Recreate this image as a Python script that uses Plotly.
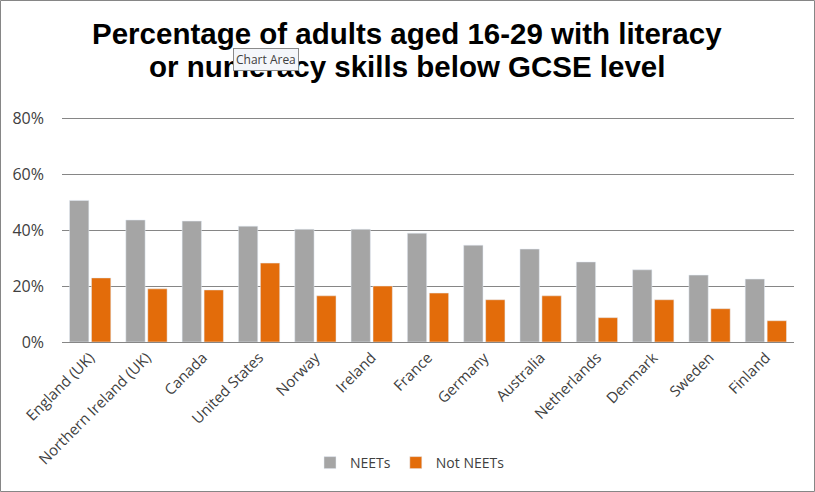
import plotly.graph_objects as go

countries = ["England (UK)", "Northern Ireland (UK)", "Canada", "United States", "Norway",
             "Ireland", "France", "Germany", "Australia", "Netherlands", "Denmark",
             "Sweden", "Finland"]
neets = [50.6, 43.6, 43.2, 41.4, 40.3, 40.3, 38.9, 34.6, 33.2, 28.6, 25.8, 23.9, 22.5]
not_neets = [22.9, 19.0, 18.6, 28.2, 16.5, 20.0, 17.5, 15.1, 16.5, 8.7, 15.1, 11.9, 7.6]
y_ticks = [0, 20, 40, 60, 80]
y_labels = ["0%", "20%", "40%", "60%", "80%"]
title_lines = ["Percentage of adults aged 16-29 with literacy",
               "or numeracy skills below GCSE level"]

W, H = 815, 492
ml, mr, mt, mb = 62, 21, 117, 150
pw, ph = W - ml - mr, H - mt - mb

fig = go.Figure()
fig.add_trace(go.Bar(x=countries, y=neets, name="NEETs", marker_color="#A5A5A5"))
fig.add_trace(go.Bar(x=countries, y=not_neets, name="Not NEETs", marker_color="#E36C0A"))

fig.update_layout(
    width=W, height=H,
    margin=dict(l=ml, r=mr, t=mt, b=mb, autoexpand=False),
    paper_bgcolor="white", plot_bgcolor="white",
    barmode="group", bargap=0.22, bargroupgap=0.12,
    font=dict(family="Open Sans", color="#404040"),
    legend=dict(orientation="h", x=(410 - ml) / pw, xanchor="center",
                y=-(463 - 342) / ph, yanchor="middle",
                font=dict(size=14, color="#404040")),
    showlegend=True,
)
fig.update_yaxes(range=[0, 80.4], tickvals=y_ticks, ticktext=y_labels, showgrid=True,
                 gridcolor="#868686", gridwidth=1, zeroline=False, showline=False,
                 tickfont=dict(size=16, color="#404040"), ticklabelstandoff=17)
fig.update_xaxes(tickangle=-45, showline=True, linecolor="#868686", linewidth=1,
                 tickfont=dict(size=15, color="#404040"), ticks="")

# two-line bold title
for i, line in enumerate(title_lines):
    fig.add_annotation(text="<b>" + line + "</b>", xref="paper", yref="paper",
                       x=(407 - ml) / pw, y=1 + (mt - (33 + 34 * i)) / ph,
                       xanchor="center", yanchor="middle", showarrow=False,
                       font=dict(family="Liberation Sans", size=29.5, color="black"))

# outer chart border
fig.add_shape(type="rect", xref="paper", yref="paper",
              x0=(0.5 - ml) / pw, x1=(W - 0.5 - ml) / pw,
              y0=-(H - 0.5 - mt - ph) / ph, y1=(mt - 0.5) / ph + 1,
              line=dict(color="#868686", width=1), layer="below")

# the "Chart Area" hover label seen in the screenshot
fig.add_annotation(text="Chart Area", xref="paper", yref="paper",
                   x=(266 - ml) / pw, y=1 + (mt - 60) / ph, xanchor="center", yanchor="middle",
                   showarrow=False,
                   font=dict(family="Open Sans", size=12, color="#404040"),
                   bgcolor="#F4F6FA", bordercolor="#8A8A8A", borderwidth=1, borderpad=2)

fig.write_html("out.html", config={"displayModeBar": False},
               post_script="document.body.style.margin='0';")
